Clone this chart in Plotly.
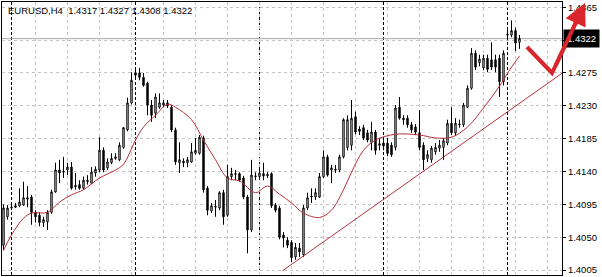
import plotly.graph_objects as go

SYMBOL = "EURUSD,H4"

OPEN = [1.4039, 1.4078, 1.4090, 1.4091, 1.4093, 1.4094, 1.4102, 1.4105, 1.4084, 1.4080,
        1.4070, 1.4071, 1.4084, 1.4112, 1.4142, 1.4139, 1.4142, 1.4146, 1.4119, 1.4122,
        1.4117, 1.4126, 1.4124, 1.4138, 1.4142, 1.4169, 1.4145, 1.4152, 1.4158, 1.4156,
        1.4173, 1.4197, 1.4234, 1.4275, 1.4275, 1.4269, 1.4261, 1.4231, 1.4220, 1.4228,
        1.4231, 1.4234, 1.4228, 1.4197, 1.4152, 1.4154, 1.4152, 1.4153, 1.4165, 1.4165,
        1.4186, 1.4117, 1.4086, 1.4091, 1.4090, 1.4111, 1.4080, 1.4133, 1.4136, 1.4137,
        1.4131, 1.4105, 1.4060, 1.4134, 1.4133, 1.4137, 1.4134, 1.4137, 1.4094, 1.4090,
        1.4053, 1.4046, 1.4043, 1.4023, 1.4035, 1.4026, 1.4090, 1.4105, 1.4105, 1.4105,
        1.4133, 1.4160, 1.4142, 1.4143, 1.4142, 1.4160, 1.4173, 1.4176, 1.4215, 1.4198,
        1.4200, 1.4193, 1.4180, 1.4194, 1.4176, 1.4179, 1.4179, 1.4176, 1.4173, 1.4228,
        1.4213, 1.4213, 1.4204, 1.4201, 1.4193, 1.4176, 1.4158, 1.4156, 1.4167, 1.4172,
        1.4173, 1.4179, 1.4206, 1.4193, 1.4204, 1.4204, 1.4228, 1.4254, 1.4302, 1.4289,
        1.4282, 1.4295, 1.4293, 1.4293, 1.4295, 1.4263, 1.4327, 1.4327, 1.4333, 1.4317]

HIGH = [1.4095, 1.4094, 1.4095, 1.4097, 1.4117, 1.4126, 1.4120, 1.4108, 1.4087, 1.4084,
        1.4078, 1.4087, 1.4115, 1.4152, 1.4156, 1.4160, 1.4152, 1.4153, 1.4138, 1.4128,
        1.4133, 1.4135, 1.4146, 1.4147, 1.4187, 1.4173, 1.4158, 1.4165, 1.4165, 1.4180,
        1.4201, 1.4241, 1.4276, 1.4282, 1.4282, 1.4275, 1.4263, 1.4238, 1.4247, 1.4247,
        1.4238, 1.4238, 1.4231, 1.4200, 1.4180, 1.4158, 1.4160, 1.4179, 1.4186, 1.4190,
        1.4189, 1.4120, 1.4097, 1.4101, 1.4113, 1.4115, 1.4149, 1.4145, 1.4142, 1.4139,
        1.4134, 1.4108, 1.4156, 1.4139, 1.4143, 1.4152, 1.4139, 1.4139, 1.4097, 1.4093,
        1.4057, 1.4050, 1.4046, 1.4042, 1.4042, 1.4094, 1.4111, 1.4117, 1.4117, 1.4138,
        1.4169, 1.4163, 1.4149, 1.4149, 1.4163, 1.4213, 1.4217, 1.4238, 1.4222, 1.4202,
        1.4204, 1.4197, 1.4208, 1.4197, 1.4186, 1.4183, 1.4186, 1.4180, 1.4231, 1.4242,
        1.4217, 1.4217, 1.4208, 1.4205, 1.4224, 1.4180, 1.4169, 1.4175, 1.4179, 1.4183,
        1.4186, 1.4211, 1.4228, 1.4213, 1.4211, 1.4234, 1.4258, 1.4309, 1.4306, 1.4300,
        1.4300, 1.4300, 1.4317, 1.4300, 1.4300, 1.4306, 1.4334, 1.4347, 1.4337, 1.4327]

LOW = [1.4032, 1.4074, 1.4087, 1.4090, 1.4091, 1.4093, 1.4091, 1.4067, 1.4070, 1.4065,
       1.4064, 1.4060, 1.4082, 1.4111, 1.4124, 1.4131, 1.4135, 1.4115, 1.4115, 1.4115,
       1.4115, 1.4122, 1.4123, 1.4133, 1.4139, 1.4139, 1.4142, 1.4150, 1.4156, 1.4154,
       1.4171, 1.4195, 1.4232, 1.4268, 1.4265, 1.4256, 1.4217, 1.4208, 1.4213, 1.4226,
       1.4228, 1.4227, 1.4194, 1.4149, 1.4138, 1.4146, 1.4146, 1.4152, 1.4163, 1.4163,
       1.4111, 1.4080, 1.4083, 1.4078, 1.4087, 1.4067, 1.4078, 1.4128, 1.4128, 1.4126,
       1.4102, 1.4028, 1.4057, 1.4128, 1.4130, 1.4128, 1.4131, 1.4090, 1.4084, 1.4047,
       1.4036, 1.4035, 1.4016, 1.4019, 1.4023, 1.4023, 1.4087, 1.4097, 1.4101, 1.4104,
       1.4131, 1.4133, 1.4124, 1.4138, 1.4139, 1.4158, 1.4169, 1.4169, 1.4191, 1.4190,
       1.4183, 1.4180, 1.4169, 1.4163, 1.4169, 1.4169, 1.4161, 1.4160, 1.4169, 1.4211,
       1.4204, 1.4200, 1.4193, 1.4190, 1.4169, 1.4142, 1.4153, 1.4152, 1.4163, 1.4167,
       1.4156, 1.4176, 1.4190, 1.4189, 1.4200, 1.4201, 1.4227, 1.4252, 1.4279, 1.4284,
       1.4279, 1.4276, 1.4279, 1.4276, 1.4242, 1.4258, 1.4320, 1.4324, 1.4305, 1.4308]

CLOSE = [1.4090, 1.4090, 1.4091, 1.4093, 1.4098, 1.4104, 1.4104, 1.4084, 1.4078, 1.4070,
         1.4074, 1.4084, 1.4112, 1.4142, 1.4138, 1.4140, 1.4146, 1.4117, 1.4121, 1.4117,
         1.4128, 1.4128, 1.4139, 1.4143, 1.4169, 1.4142, 1.4153, 1.4158, 1.4160, 1.4176,
         1.4200, 1.4234, 1.4265, 1.4272, 1.4269, 1.4258, 1.4231, 1.4217, 1.4242, 1.4234,
         1.4234, 1.4230, 1.4197, 1.4153, 1.4156, 1.4152, 1.4156, 1.4167, 1.4169, 1.4187,
         1.4115, 1.4087, 1.4093, 1.4092, 1.4111, 1.4078, 1.4133, 1.4137, 1.4137, 1.4128,
         1.4105, 1.4060, 1.4135, 1.4133, 1.4138, 1.4134, 1.4136, 1.4093, 1.4087, 1.4050,
         1.4049, 1.4039, 1.4022, 1.4036, 1.4030, 1.4090, 1.4104, 1.4106, 1.4111, 1.4133,
         1.4160, 1.4135, 1.4145, 1.4142, 1.4160, 1.4211, 1.4211, 1.4213, 1.4194, 1.4195,
         1.4186, 1.4183, 1.4194, 1.4169, 1.4178, 1.4175, 1.4165, 1.4163, 1.4227, 1.4213,
         1.4211, 1.4204, 1.4197, 1.4194, 1.4173, 1.4156, 1.4163, 1.4172, 1.4173, 1.4176,
         1.4182, 1.4206, 1.4193, 1.4206, 1.4205, 1.4231, 1.4254, 1.4302, 1.4283, 1.4294,
         1.4295, 1.4280, 1.4283, 1.4283, 1.4263, 1.4302, 1.4328, 1.4333, 1.4316, 1.4322]

BARS = list(range(len(OPEN)))

# moving average (bar index, price)
MA_BARS = [0, 2, 5, 7, 11, 14, 17, 20, 24, 28, 30, 33, 35, 38, 41, 43, 47, 50, 53, 56,
           59, 63, 66, 69, 72, 75, 79, 82, 85, 87, 90, 93, 98, 104, 108, 112, 116, 120,
           124, 127, 129]
MA_VALUES = [1.4032, 1.4053, 1.4076, 1.4083, 1.4084, 1.4098, 1.4108, 1.4115, 1.4131,
             1.4142, 1.4150, 1.4183, 1.4201, 1.4217, 1.4232, 1.4228, 1.4211, 1.4183,
             1.4156, 1.4131, 1.4127, 1.4111, 1.4120, 1.4109, 1.4097, 1.4083, 1.4077,
             1.4087, 1.4115, 1.4139, 1.4169, 1.4183, 1.4191, 1.4190, 1.4186, 1.4187,
             1.4201, 1.4227, 1.4257, 1.4283, 1.4298]

TREND_BARS = [69.75, 139.75]
TREND_PRICES = [1.4004, 1.4275]

Y_TICKS = [1.4005, 1.4050, 1.4095, 1.4140, 1.4185, 1.4230, 1.4275, 1.4320, 1.4365]
Y_TICK_LABELS = ["1.4005", "1.4050", "1.4095", "1.4140", "1.4185", "1.4230", "1.4275", "", "1.4365"]
GRID_BARS = [8, 16, 24, 32, 40, 48, 56, 64, 72, 80, 88, 96, 104, 112, 120, 128, 136]
SEPARATOR_BARS = [2, 33, 64, 95, 126]
LAST_PRICE = CLOSE[-1]

W, H = 602, 277
ML, MR, MT, MB = 2, 40, 2, 2
PW, PH = W - ML - MR, H - MT - MB


def px(xp):
    return (xp - ML) / PW


def py(yp):
    return (H - MB - yp) / PH


FONT = "Liberation Sans, Arial, sans-serif"
RED = "#d9262c"
LINE_RED = "#b3303c"

fig = go.Figure()

fig.add_trace(go.Candlestick(
    x=BARS, open=OPEN, high=HIGH, low=LOW, close=CLOSE,
    increasing=dict(line=dict(color="black", width=1), fillcolor="white"),
    decreasing=dict(line=dict(color="black", width=1), fillcolor="black"),
    whiskerwidth=0, hoverinfo="skip", showlegend=False,
))

fig.add_trace(go.Scatter(
    x=MA_BARS, y=MA_VALUES, mode="lines", line=dict(color=LINE_RED, width=1, shape="spline"),
    hoverinfo="skip", showlegend=False,
))

fig.add_trace(go.Scatter(
    x=TREND_BARS, y=TREND_PRICES, mode="lines", line=dict(color=LINE_RED, width=1),
    hoverinfo="skip", showlegend=False, cliponaxis=True,
))

shapes = []
for b in SEPARATOR_BARS:
    shapes.append(dict(type="line", xref="x", yref="paper", x0=b, x1=b, y0=0, y1=1,
                       line=dict(color="black", width=1, dash="3px,2px"), layer="below"))
# bid line
shapes.append(dict(type="line", xref="paper", yref="y", x0=0, x1=1, y0=LAST_PRICE, y1=LAST_PRICE,
                   line=dict(color="#a8a8a8", width=1), layer="below"))
# hand-drawn red arrow
shapes.append(dict(type="path", xref="paper", yref="paper",
                   path=f"M {px(527)} {py(47)} L {px(552)} {py(73)} L {px(580)} {py(14)}",
                   line=dict(color=RED, width=4)))

annotations = [
    dict(xref="paper", yref="paper", x=px(6), y=py(11), xanchor="left", yanchor="middle",
         showarrow=False,
         text=f"{SYMBOL}\u00a0\u00a0{OPEN[-1]:.4f} {HIGH[-1]:.4f} {LOW[-1]:.4f} {CLOSE[-1]:.4f}",
         font=dict(family=FONT, size=9.5, color="black")),
    dict(xref="paper", yref="y", x=1, y=LAST_PRICE, xanchor="left", yanchor="middle",
         xshift=1, showarrow=False, text=f"{LAST_PRICE:.4f}", bgcolor="black",
         borderpad=3, font=dict(family=FONT, size=9.5, color="white")),
    dict(xref="paper", yref="paper", x=px(585), y=py(3), ax=-30, ay=64,
         axref="pixel", ayref="pixel", text="", showarrow=True, arrowhead=2,
         arrowsize=1.1, arrowwidth=4, arrowcolor=RED, standoff=0),
]

fig.update_layout(
    width=W, height=H,
    margin=dict(l=ML, r=MR, t=MT, b=MB, pad=0),
    paper_bgcolor="white", plot_bgcolor="white",
    shapes=shapes, annotations=annotations,
    showlegend=False, boxgap=0.5,
    xaxis=dict(range=[-0.375, 139.625], tickvals=GRID_BARS, showticklabels=False, ticks="",
               showgrid=True, gridcolor="#c4c4c4", griddash="3px,3px", gridwidth=1,
               showline=True, mirror=True, linecolor="black", linewidth=1,
               zeroline=False, rangeslider=dict(visible=False), fixedrange=True),
    yaxis=dict(range=[1.39982, 1.43722], side="right", tickvals=Y_TICKS, ticktext=Y_TICK_LABELS,
               ticks="outside", ticklen=3, tickcolor="black", tickwidth=1,
               showgrid=True, gridcolor="#c4c4c4", griddash="3px,3px", gridwidth=1,
               showline=True, mirror=True, linecolor="black", linewidth=1,
               zeroline=False, fixedrange=True,
               tickfont=dict(family=FONT, size=9.5, color="black")),
)

fig.write_html("out.html")
